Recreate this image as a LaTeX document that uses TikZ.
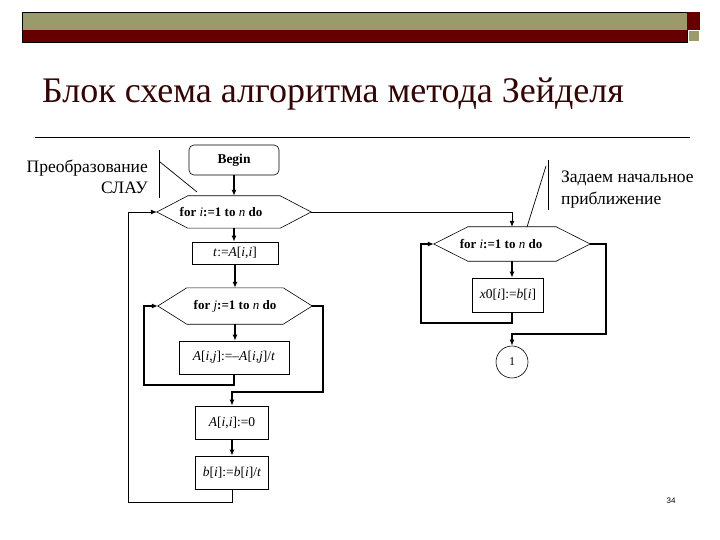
\documentclass[tikz,border=0pt]{standalone}
\usepackage{fontspec}
\setmainfont{Liberation Serif}
\newfontfamily\sansf{Liberation Sans}
\usetikzlibrary{arrows.meta,calc}
\definecolor{olivebar}{HTML}{9A9A6A}
\definecolor{maroonbar}{HTML}{660000}
\definecolor{titlecol}{HTML}{330505}
\newcommand\ivar[1]{\textnormal{\textit{#1}}}
\newcommand\hexframe[2]{\draw[line width=0.6pt] (#1.west) -- ([xshift=#2]#1.north west) -- ([xshift=-#2]#1.north east) -- (#1.east) -- ([xshift=-#2]#1.south east) -- ([xshift=#2]#1.south west) -- cycle;}
\begin{document}
\begin{tikzpicture}[x=1pt,y=-1pt,
  box/.style={draw,line width=0.6pt,inner sep=0pt,font=\fontsize{13.5}{15}\selectfont},
  hexbox/.style={inner sep=0pt,font=\fontsize{13}{15}\selectfont\bfseries},
  conn/.style={line width=1.6pt},
  thinconn/.style={line width=0.8pt},
  arr/.style={-{Latex[length=6pt,width=5pt]}},
  note/.style={inner sep=0pt,font=\fontsize{17.5}{20}\selectfont},
]
\fill[white] (0,0) rectangle (720,540);
\useasboundingbox (0,0) rectangle (720,540);
% header bars
\fill[olivebar] (22,12) rectangle (687,30);
\fill[maroonbar] (22,30) rectangle (687,42);
\draw[line width=0.4pt] (22,12) rectangle (687,42);
\fill[maroonbar] (687,12) rectangle (700,30);
\fill[olivebar] (689,31) rectangle (699,41);
% title
\node[anchor=base west,inner sep=0pt,text=titlecol,font=\fontsize{36}{40}\selectfont] (title) at (42,103) {Блок схема алгоритма метода Зейделя};
\draw[line width=0.8pt] (35,137) -- (690,137);
% annotations
\node[note,anchor=base east] (n1) at (148,173) {Преобразование};
\node[note,anchor=base east] (n2) at (148,194) {СЛАУ};
\draw[line width=0.7pt] (159,150) -- (159,198);
\draw[line width=0.7pt] (160,162) -- (197,192);
\node[note,anchor=base west] (n3) at (561,183) {Задаем начальное};
\node[note,anchor=base west] (n4) at (561,205) {приближение};
\draw[line width=0.7pt] (548,160) -- (548,210);
\draw[line width=0.7pt] (546,166) -- (527,227);
% left column nodes
\node[box,rounded corners=5pt,minimum width=90pt,minimum height=30pt,font=\fontsize{13.5}{15}\selectfont\bfseries] (begin) at (234,160) {Begin};
\node[hexbox,minimum width=154pt,minimum height=32pt] (h1) at (234,212) {for \ivar{i}:=1 to \ivar{n} do\hspace*{26pt}};
\hexframe{h1}{31pt}
\node[box,minimum width=86pt,minimum height=22pt] (tb) at (235,253) {\ivar{t}:=\ivar{A}[\ivar{i},\ivar{i}]};
\node[hexbox,minimum width=154pt,minimum height=36pt] (hj) at (235,306) {for \ivar{j}:=1 to \ivar{n} do};
\hexframe{hj}{29pt}
\node[box,minimum width=110pt,minimum height=33pt] (aij) at (234,357.5) {\ivar{A}[\ivar{i},\ivar{j}]:=–\ivar{A}[\ivar{i},\ivar{j}]/\ivar{t}};
\node[box,minimum width=73pt,minimum height=33pt] (aii) at (232,422.5) {\ivar{A}[\ivar{i},\ivar{i}]:=0};
\node[box,minimum width=73pt,minimum height=33pt] (bb) at (232,472.5) {\ivar{b}[\ivar{i}]:=\ivar{b}[\ivar{i}]/\ivar{t}};
% right column nodes
\node[hexbox,minimum width=156pt,minimum height=34pt] (h2) at (512,244) {for \ivar{i}:=1 to \ivar{n} do\hspace*{22pt}};
\hexframe{h2}{34pt}
\node[box,minimum width=71pt,minimum height=34pt] (x0) at (508,295) {\ivar{x}0[\ivar{i}]:=\ivar{b}[\ivar{i}]};
\node[draw,circle,line width=0.6pt,minimum size=32pt,inner sep=0pt,font=\fontsize{12}{14}\selectfont] (c1) at (512,362) {1};
% connectors left
\draw[conn,arr] (begin.south) -- (begin.south |- h1.north);
\draw[conn,arr] (h1.south) -- (h1.south |- tb.north);
\draw[conn,arr] (tb.south) -- (tb.south |- hj.north);
\draw[conn,arr] (hj.south) -- (hj.south |- aij.north);
\coordinate (j1) at (144,385);
\draw[conn,arr] (aij.south) |- (j1) |- (hj.west);
\coordinate (j2) at (323,392);
\draw[conn,arr] (hj.east) -| (j2) -| (aii.north);
\draw[conn,arr] (aii.south) -- (bb.north);
\coordinate (o1) at (128,502);
\draw[thinconn,arr] (bb.south) |- (o1) |- (h1.west);
% connectors right
\draw[thinconn,arr] (h1.east) -| (h2.north);
\draw[conn,arr] (h2.south) -- (h2.south |- x0.north);
\coordinate (r1) at (421,323);
\draw[conn,arr] (h2.south |- x0.south) |- (r1) |- (h2.west);
\coordinate (r2) at (606,334);
\draw[conn,arr] (h2.east) -| (r2) -| (c1.north);
% page number
\node[inner sep=0pt,font=\sansf\fontsize{8}{9}\selectfont] (pg) at (671,501) {34};
\end{tikzpicture}
\end{document}
